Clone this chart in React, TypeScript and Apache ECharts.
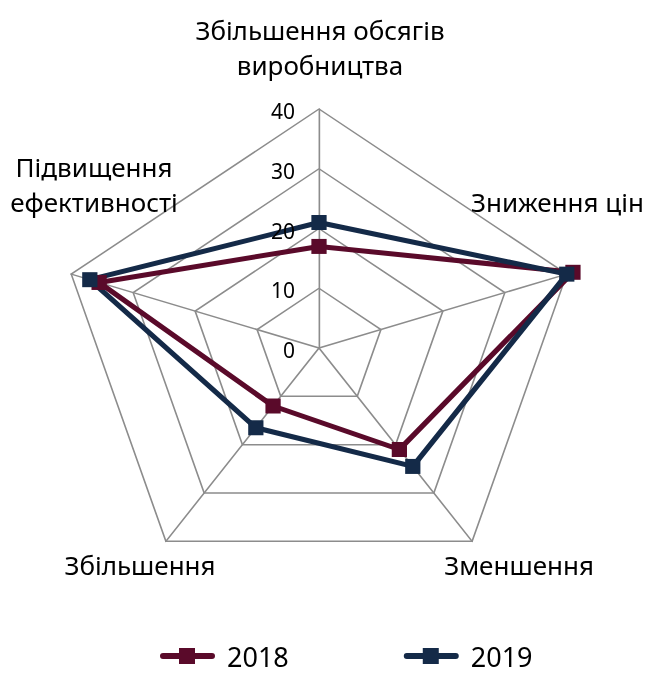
import React, { useEffect, useRef } from "react";
import * as echarts from "echarts";

// categories in clockwise order starting at the top
const categories = [
  "Збільшення обсягів\nвиробництва",
  "Зниження цін",
  "Зменшення",
  "Збільшення",
  "Підвищення\nефективності",
];
const values2018 = [17, 41, 21, 12, 35.5];
const values2019 = [21, 40, 24.5, 16.5, 37];
const seriesNames = ["2018", "2019"];
const seriesColors = ["#5a0a2a", "#142a48"];
const axisMax = 40;
const axisStep = 10;

const FONT = "'Noto Sans', 'Open Sans', sans-serif";
const STRETCH = 1.09; // horizontal stretch of the radar drawing
const W = 646;
const H = 673;
const CX = 319;
const CY = 348;
const R = 239;

const LEGEND_ICON =
  "path://M3,5 H19 V0 H35 V5 H52 A3,3 0 0 1 52,11 H35 V16 H19 V11 H3 A3,3 0 0 1 3,5 Z";

// ECharts draws indicators counter-clockwise; reorder to get clockwise layout
const ecOrder = [0, 4, 3, 2, 1];

export default function App() {
  const radarRef = useRef<HTMLDivElement>(null);
  const textRef = useRef<HTMLDivElement>(null);
  useEffect(() => {
    if (!radarRef.current || !textRef.current) return;
    const radarChart = echarts.init(radarRef.current, null, { renderer: "svg" });
    const textChart = echarts.init(textRef.current, null, { renderer: "svg" });

    const allValues = [values2018, values2019];
    radarChart.setOption({
      animation: false,
      radar: {
        center: [CX / STRETCH, CY],
        radius: R,
        startAngle: 90,
        shape: "polygon",
        splitNumber: 4,
        indicator: ecOrder.map((i) => ({ name: categories[i], min: 0, max: axisMax })),
        axisName: { show: false },
        axisLine: { lineStyle: { color: "#8c8c8c", width: 1.5 } },
        splitLine: { lineStyle: { color: "#8c8c8c", width: 1.5 } },
        splitArea: { show: false },
        axisTick: { show: false },
        axisLabel: { show: false },
      },
      series: seriesNames.map((n, k) => ({
        type: "radar",
        name: n,
        symbol: "rect",
        symbolSize: [14, 15],
        lineStyle: { color: seriesColors[k], width: 5 },
        itemStyle: { color: seriesColors[k] },
        data: [{ value: ecOrder.map((i) => allValues[k][i]), name: n }],
      })),
    });

    const labelPos = [
      { x: 320, y: 12, align: "center" },
      { x: 471, y: 184, align: "left" },
      { x: 519, y: 547, align: "center" },
      { x: 140, y: 547, align: "center" },
      { x: 94, y: 149, align: "center" },
    ];
    textChart.setOption({
      animation: false,
      textStyle: { fontFamily: FONT },
      grid: { left: CX, top: CY - R + 2, height: R, width: 1 },
      xAxis: { type: "value", show: false, min: 0, max: 1 },
      yAxis: {
        type: "value",
        min: 0,
        max: axisMax,
        interval: axisStep,
        axisLine: { show: false },
        axisTick: { show: false },
        splitLine: { show: false },
        axisLabel: { fontSize: 21, color: "#000", margin: 24, fontFamily: FONT },
      },
      legend: {
        top: 636,
        left: 155,
        itemWidth: 55,
        itemHeight: 16,
        itemGap: 115,
        textStyle: {
          fontSize: 27,
          lineHeight: 30,
          color: "#000",
          fontFamily: FONT,
          padding: [0, 0, 0, 7],
        },
        data: seriesNames.map((n) => ({ name: n, icon: LEGEND_ICON })),
      },
      graphic: categories.map((c, i) => ({
        type: "text",
        x: labelPos[i].x,
        y: labelPos[i].y,
        style: {
          text: c,
          fill: "#000",
          font: `26px ${FONT}`,
          align: labelPos[i].align,
          verticalAlign: "top",
          lineHeight: 35,
        },
      })),
      series: seriesNames.map((n, k) => ({
        type: "line",
        name: n,
        symbol: "rect",
        lineStyle: { color: seriesColors[k], width: 6 },
        itemStyle: { color: seriesColors[k] },
        data: [],
      })),
    });
    return () => {
      radarChart.dispose();
      textChart.dispose();
    };
  }, []);
  return (
    <div>
      <div
        ref={radarRef}
        style={{
          position: "fixed",
          left: 0,
          top: 0,
          width: W / STRETCH,
          height: H,
          transform: `scaleX(${STRETCH})`,
          transformOrigin: "0 0",
          background: "#fff",
        }}
      />
      <div
        ref={textRef}
        style={{ position: "fixed", left: 0, top: 0, width: W, height: H }}
      />
    </div>
  );
}
